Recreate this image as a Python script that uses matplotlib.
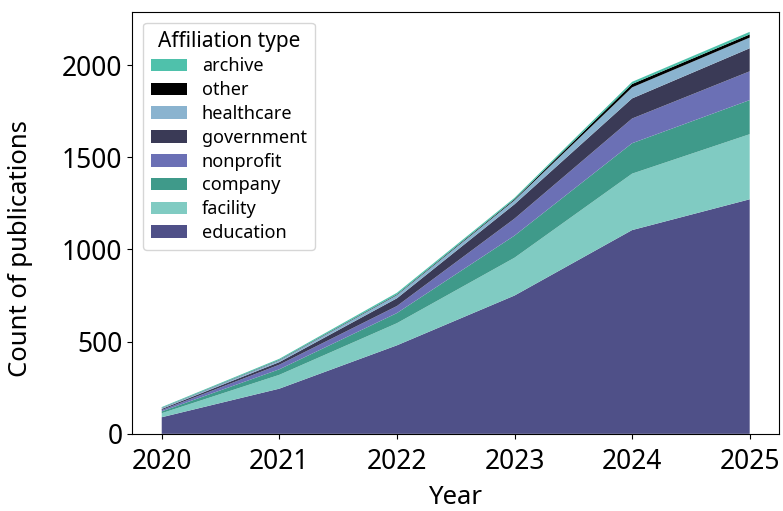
import numpy as np
import matplotlib
matplotlib.use("Agg")
import matplotlib.pyplot as plt

plt.rcParams['font.family'] = ['Noto Sans', 'DejaVu Sans']

years = [2020, 2021, 2022, 2023, 2024, 2025]

# stacked from bottom to top
education = [90, 245, 480, 750, 1105, 1272]
facility = [22, 75, 120, 205, 306, 353]
company = [10, 30, 55, 120, 165, 185]
nonprofit = [7, 25, 38, 92, 134, 156]
government = [6, 14, 42, 78, 109, 125]
healthcare = [5, 10, 18, 22, 60, 58]
other = [1, 2, 3, 5, 18, 17]
archive = [4, 6, 9, 8, 12, 14]

labels = ['education', 'facility', 'company', 'nonprofit',
          'government', 'healthcare', 'other', 'archive']
colors = ['#4f5088', '#80cbc2', '#3f9a8a', '#6b70b5',
          '#3a3a56', '#8ab3cf', '#000000', '#4fc1ab']

fig, ax = plt.subplots(figsize=(7.83, 5.11), dpi=100)
fig.subplots_adjust(left=0.169, right=0.995, top=0.977, bottom=0.151)

ax.stackplot(years, education, facility, company, nonprofit,
             government, healthcare, other, archive,
             labels=labels, colors=colors)

ax.set_xlabel('Year', fontsize=18.5, labelpad=6)
ax.set_ylabel('Count of publications', fontsize=18.5)
ax.yaxis.set_label_coords(-0.153, 0.44)
ax.tick_params(labelsize=19)
ax.tick_params(axis='x', pad=7)
ax.set_xticks(years)

handles, labs = ax.get_legend_handles_labels()
leg = ax.legend(handles[::-1], labs[::-1], title='Affiliation type',
                loc='upper left', fontsize=13, title_fontsize=15,
                labelspacing=0.32, borderaxespad=0.6, borderpad=0.45)

plt.savefig('out.png', dpi=100)
